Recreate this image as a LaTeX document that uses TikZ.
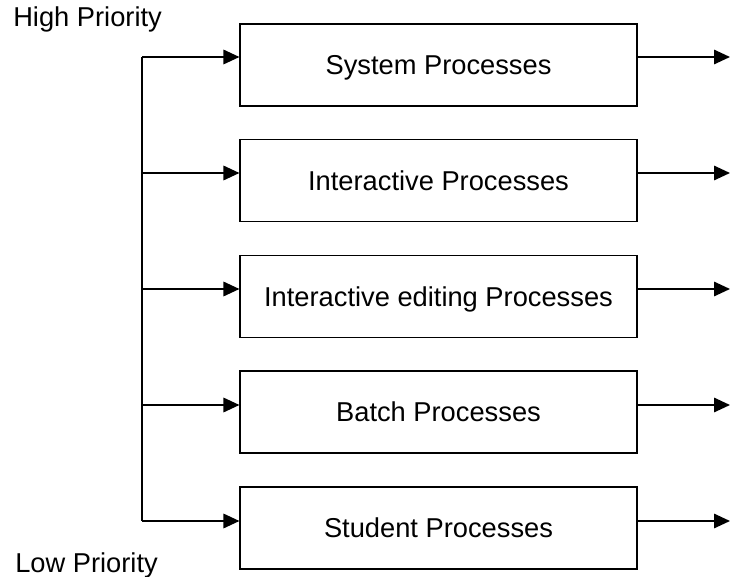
\documentclass[tikz,border=0pt]{standalone}
\usepackage{fontspec}
\setmainfont{Liberation Sans}
\usetikzlibrary{arrows.meta,positioning,calc}

\begin{document}
\begin{tikzpicture}[
    x=0.025cm, y=-0.025cm,
    proc/.style={rectangle, draw, line width=1.4pt, minimum width=9.9cm, minimum height=2.05cm, text depth=0pt, align=center, font=\fontsize{19.4}{23}\selectfont},
    label/.style={font=\fontsize{19.4}{23}\selectfont, inner sep=0pt, anchor=base west},
    arrow/.style={-{Triangle[length=0.4cm,width=0.36cm]}, line width=1.4pt},
    line/.style={line width=1.4pt}
]
    \useasboundingbox (0,0) rectangle (730,577);

    % process boxes
    \node[proc] (sys) at (438.5, 65) {System Processes};
    \node[proc] (inter) at (438.5, 180.5) {Interactive Processes};
    \node[proc] (edit) at (438.5, 296.5) {Interactive editing Processes};
    \node[proc] (batch) at (438.5, 412) {Batch Processes};
    \node[proc] (student) at (438.5, 528) {Student Processes};

    % priority labels
    \node[label] (high) at (13, 27) {High Priority};
    \node[label] (low) at (15, 572) {Low Priority};

    % branch points on the left line
    \coordinate (b1) at (142, 57);
    \coordinate (b2) at (142, 173);
    \coordinate (b3) at (142, 289);
    \coordinate (b4) at (142, 405);
    \coordinate (b5) at (142, 521);
    \coordinate (out) at (730, 0);

    % left line
    \draw[line] (b1) -- (b5);

    % arrows into the boxes
    \draw[arrow] (b1) -- (b1 -| sys.west);
    \draw[arrow] (b2) -- (b2 -| inter.west);
    \draw[arrow] (b3) -- (b3 -| edit.west);
    \draw[arrow] (b4) -- (b4 -| batch.west);
    \draw[arrow] (b5) -- (b5 -| student.west);

    % arrows out of the boxes
    \draw[arrow] (b1 -| sys.east) -- (b1 -| out);
    \draw[arrow] (b2 -| inter.east) -- (b2 -| out);
    \draw[arrow] (b3 -| edit.east) -- (b3 -| out);
    \draw[arrow] (b4 -| batch.east) -- (b4 -| out);
    \draw[arrow] (b5 -| student.east) -- (b5 -| out);
\end{tikzpicture}
\end{document}
